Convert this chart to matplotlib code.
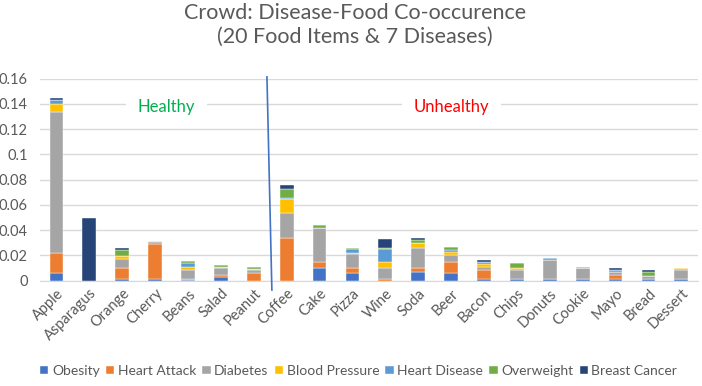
import numpy as np
import matplotlib
matplotlib.use("Agg")
import matplotlib.pyplot as plt

plt.rcParams["font.family"] = ["Lato", "DejaVu Sans"]

''' Data '''
foods = ["Apple", "Asparagus", "Orange", "Cherry", "Beans", "Salad", "Peanut",
         "Coffee", "Cake", "Pizza", "Wine", "Soda", "Beer", "Bacon", "Chips",
         "Donuts", "Cookie", "Mayo", "Bread", "Dessert"]

obesity        = [0.006, 0, 0.0015, 0.0015, 0.0005, 0.0032, 0, 0, 0.0098, 0.0058,
                  0, 0.0071, 0.0058, 0.0013, 0.0013, 0.0013, 0.0013, 0.0016, 0.0013, 0.0013]
heart_attack   = [0.0158, 0, 0.0083, 0.0275, 0.001, 0.0013, 0.006, 0.0338, 0.0053, 0.004,
                  0.0015, 0.0027, 0.0092, 0.0072, 0, 0, 0, 0.0027, 0, 0]
diabetes       = [0.112, 0, 0.0072, 0.0017, 0.007, 0.0053, 0.0022, 0.0201, 0.0269, 0.0111,
                  0.0083, 0.0159, 0.0054, 0.0021, 0.0072, 0.0151, 0.0085, 0.0028, 0.0024, 0.0072]
blood_pressure = [0.006, 0, 0.0026, 0.001, 0.0025, 0.0012, 0.0011, 0.0108, 0, 0.0008,
                  0.0053, 0.0039, 0.0026, 0.0024, 0.0013, 0, 0, 0, 0, 0.0013]
heart_disease  = [0.0034, 0, 0, 0, 0.0033, 0, 0, 0.0011, 0, 0.0032,
                  0.0098, 0, 0.0013, 0.0016, 0, 0.0013, 0, 0.0014, 0, 0]
overweight     = [0, 0, 0.0047, 0, 0.0011, 0.0017, 0.0015, 0.0071, 0.0024, 0.0007,
                  0.0007, 0.0026, 0.0027, 0, 0.004, 0, 0.0013, 0, 0.0034, 0]
breast_cancer  = [0.0012, 0.05, 0.0017, 0, 0, 0, 0, 0.0027, 0, 0,
                  0.0072, 0.0016, 0, 0.0018, 0, 0, 0, 0.0013, 0.0014, 0]

diseases = ["Obesity", "Heart Attack", "Diabetes", "Blood Pressure",
            "Heart Disease", "Overweight", "Breast Cancer"]
series = [obesity, heart_attack, diabetes, blood_pressure,
          heart_disease, overweight, breast_cancer]
colors = ["#4472C4", "#ED7D31", "#A5A5A5", "#FFC000",
          "#5B9BD5", "#70AD47", "#264478"]

yticks = [0, 0.02, 0.04, 0.06, 0.08, 0.1, 0.12, 0.14, 0.16]
ytick_labels = ["0", "0.02", "0.04", "0.06", "0.08", "0.1", "0.12", "0.14", "0.16"]

text_color = "#595959"
grid_color = "#D9D9D9"

''' Plot '''
fig = plt.figure(figsize=(7.02, 3.86), dpi=100)
ax = fig.add_axes([0.057, 0.2728, 0.937, 0.5238])

x = np.arange(len(foods))
bottom = np.zeros(len(foods))
for name, vals, col in zip(diseases, series, colors):
    ax.bar(x, vals, width=0.42, bottom=bottom, color=col, label=name,
           edgecolor="white", linewidth=0.3, zorder=3)
    bottom += np.array(vals)

ax.set_xlim(-0.5, len(foods) - 0.5)
ax.set_ylim(0, 0.16)
ax.set_yticks(yticks)
ax.set_yticklabels(ytick_labels)
ax.set_xticks(x)
ax.set_xticklabels(foods, rotation=45, ha="right", rotation_mode="anchor")
ax.tick_params(axis="both", length=0, colors=text_color, labelsize=10.5)
ax.tick_params(axis="y", pad=9)
ax.tick_params(axis="x", pad=4)

ax.grid(axis="y", color=grid_color, linewidth=1, zorder=0)
for s in ["top", "right", "left"]:
    ax.spines[s].set_visible(False)
ax.spines["bottom"].set_color(grid_color)

# healthy / unhealthy divider
ax.plot([6.40, 6.55], [0.1613, -0.0074], color="#4472C4", linewidth=1.2,
        clip_on=False, zorder=4)
ax.text(3.35, 0.1375, "Healthy", color="#00B050", fontsize=12,
        ha="center", va="center", zorder=2,
        bbox=dict(boxstyle="square,pad=0.7", fc="white", ec="none"))
ax.text(12.0, 0.1375, "Unhealthy", color="#FF0000", fontsize=12,
        ha="center", va="center", zorder=2,
        bbox=dict(boxstyle="square,pad=0.7", fc="white", ec="none"))

fig.text(0.506, 0.9365, "Crowd: Disease-Food Co-occurence\n(20 Food Items & 7 Diseases)",
         ha="center", va="center", fontsize=15.5, color=text_color, linespacing=1.25)

fig.legend(loc="center", bbox_to_anchor=(0.511, 0.039), ncol=7, frameon=False,
           fontsize=10, handlelength=0.6, handleheight=0.6, handletextpad=0.25,
           columnspacing=0.45, labelcolor=text_color)

fig.savefig("out.png", dpi=100)
